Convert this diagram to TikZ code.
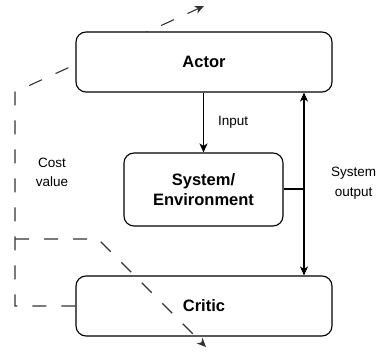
\documentclass[tikz,border=0pt]{standalone}
\usepackage{fontspec}
\setmainfont{Liberation Sans}
\usetikzlibrary{arrows.meta}
\begin{document}
\begin{tikzpicture}[x=1pt,y=-1pt,
  box/.style={draw, line width=1.1pt, rounded corners=10pt, fill=white, align=center, inner sep=0pt, font=\fontsize{16.5}{20.5}\selectfont\bfseries},
  arr/.style={-{Stealth[length=9pt,width=8pt,inset=2.5pt]}, line width=1.1pt},
  dsh/.style={dash pattern=on 14pt off 15pt, line width=1.1pt, draw=black!80},
  lbl/.style={font=\fontsize{13.5}{19}\selectfont, align=center, inner sep=0pt}]
\useasboundingbox (0,0) rectangle (378,352);
% critic first so that the adaptation arrow lies on top of it
\node[box, minimum width=256pt, minimum height=60pt] (critic) at (204,306) {Critic};
\coordinate (ca) at (15,306);
\coordinate (cb) at (15,92);
\coordinate (ta) at (204,6);
\draw[dsh, arr] (critic.west) -- (ca) -- (cb) -- (ta);
\node[box, minimum width=256pt, minimum height=60pt] (actor) at (204,62) {Actor};
\node[box, minimum width=159pt, minimum height=73pt] (sys) at (203.5,189.5) {System/\\Environment};
% adaptation arrow through critic
\coordinate (cc) at (15,239);
\coordinate (cd) at (98,239);
\coordinate (tc) at (206,347);
\draw[dsh, arr] (cc) -- (cd) -- (tc);
% solid connectors
\draw[arr] (actor.south -| sys.north) -- (sys.north);
\coordinate (so) at (304,189);
\draw[line width=1.1pt] (sys.east |- so) -- (so);
\draw[arr] (so) -- (so |- actor.south);
\draw[arr] (so) -- (so |- critic.north);
% labels
\node[lbl, anchor=west] (inp) at (218,122) {Input};
\node[lbl] (cost) at (52,172) {Cost\\value};
\node[lbl, anchor=west, font=\fontsize{13.5}{20}\selectfont] (out) at (331,183) {System\\output};
\end{tikzpicture}
\end{document}
